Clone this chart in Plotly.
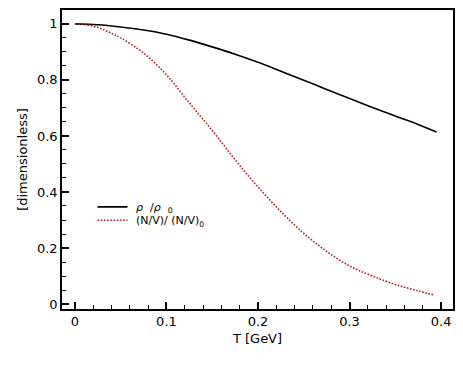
import plotly.graph_objects as go

T_rho = [0, 0.025, 0.05, 0.075, 0.1, 0.125, 0.15, 0.175, 0.2, 0.225, 0.25, 0.275, 0.3, 0.325, 0.35, 0.375, 0.395]
rho_ratio = [1.0, 0.997, 0.989, 0.978, 0.963, 0.942, 0.918, 0.892, 0.863, 0.831, 0.799, 0.766, 0.734, 0.702, 0.671, 0.641, 0.614]

T_n = [0, 0.0125, 0.025, 0.0375, 0.05, 0.075, 0.1, 0.125, 0.15, 0.175, 0.2, 0.225, 0.25, 0.275, 0.3, 0.325, 0.35, 0.375, 0.393]
n_ratio = [1.0, 0.997, 0.987, 0.970, 0.950, 0.896, 0.818, 0.718, 0.620, 0.515, 0.418, 0.330, 0.252, 0.188, 0.136, 0.100, 0.070, 0.047, 0.032]

x_ticks = [0, 0.1, 0.2, 0.3, 0.4]
x_labels = ["0", "0.1", "0.2", "0.3", "0.4"]
y_ticks = [0, 0.2, 0.4, 0.6, 0.8, 1.0]
y_labels = ["0", "0.2", "0.4", "0.6", "0.8", "1"]

fig = go.Figure()
fig.add_trace(go.Scatter(x=T_rho, y=rho_ratio, mode="lines", line=dict(color="black", width=1.6, shape="spline"),
                         name=" <i>ρ</i>  /<i>ρ</i>  <sub>0</sub>", legend="legend", showlegend=True))
fig.add_trace(go.Scatter(x=T_n, y=n_ratio, mode="lines",
                         line=dict(color="#b22222", width=1.6, dash="1.6px,1.6px", shape="spline"),
                         name=" (N/V)/ (N/V)<sub>0</sub>", legend="legend2", showlegend=True))

font = dict(family="DejaVu Sans", size=13, color="black")
axis_common = dict(showline=True, linecolor="black", linewidth=1.5, mirror=True, ticks="inside",
                   ticklen=7, tickwidth=1.5, tickcolor="black", showgrid=False, zeroline=False,
                   tickfont=font)
fig.update_xaxes(range=[-0.0141, 0.413], tickvals=x_ticks, ticktext=x_labels,
                 minor=dict(ticks="inside", ticklen=4, tickwidth=1, tickcolor="black", dtick=0.02, tick0=0, showgrid=False),
                 title=dict(text="T [GeV]", font=font, standoff=6), **axis_common)
fig.update_yaxes(range=[-0.0177, 1.0496], tickvals=y_ticks, ticktext=y_labels,
                 minor=dict(ticks="inside", ticklen=4, tickwidth=1, tickcolor="black", dtick=0.05, tick0=0, showgrid=False),
                 title=dict(text="[dimensionless]", font=font, standoff=6), **axis_common)

leg_font = dict(family="DejaVu Sans", size=11, color="black")
fig.update_layout(width=463, height=371, margin=dict(l=62, r=8, t=8, b=62),
                  paper_bgcolor="white", plot_bgcolor="white", font=font, showlegend=True,
                  legend=dict(x=0.078, y=0.39, xanchor="left", yanchor="top", bgcolor="rgba(0,0,0,0)",
                              font=leg_font, itemwidth=30),
                  legend2=dict(x=0.078, y=0.3455, xanchor="left", yanchor="top", bgcolor="rgba(0,0,0,0)",
                               font=leg_font, itemwidth=30))
fig.write_html("out.html", config={"displayModeBar": False},
               post_script="document.body.style.margin='0';document.body.style.overflow='hidden';")
